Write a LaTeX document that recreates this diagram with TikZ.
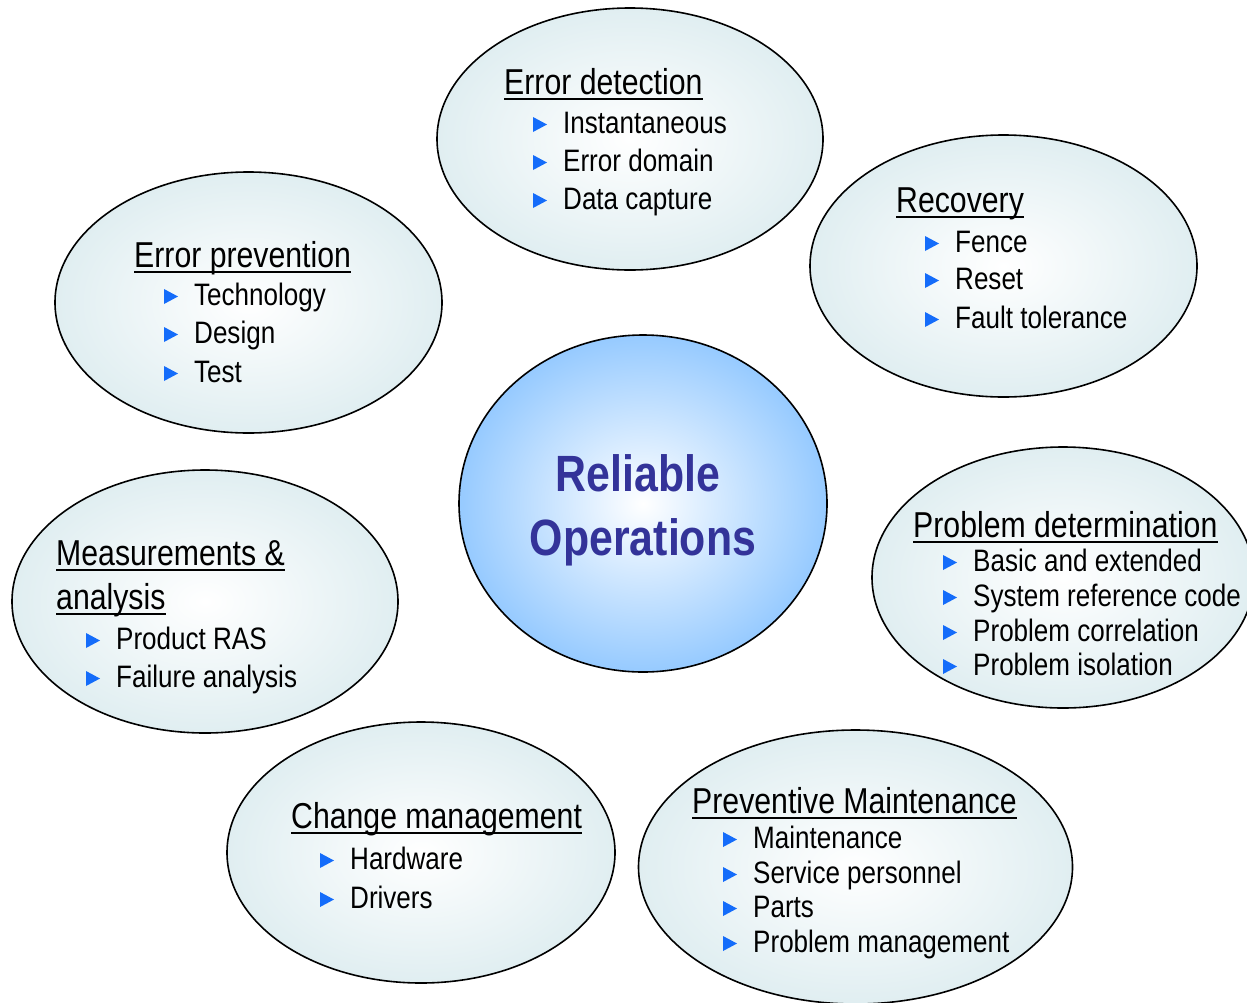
\documentclass[tikz,border=0pt]{standalone}
\usepackage{fontspec}
\setmainfont{Liberation Sans}[FakeStretch=0.84]
\usepackage{tikz}
\usetikzlibrary{shapes.geometric}

\definecolor{bubbleedge}{RGB}{224,238,241}
\definecolor{coreedge}{RGB}{150,202,255}
\definecolor{coretext}{RGB}{51,51,153}
\definecolor{bulletblue}{RGB}{20,108,250}

\tikzset{
  bubble/.style={ellipse, draw=black, line width=1.6pt, shading=radial,
    inner color=white, outer color=bubbleedge, inner sep=0pt},
  heading/.style={anchor=base west, inner sep=0pt, font=\fontsize{36}{40}\selectfont},
  entry/.style={anchor=base west, inner sep=0pt, font=\fontsize{31}{35}\selectfont},
  uline/.style={line width=2pt},
  bullet/.style={fill=bulletblue}
}
% underline under a heading node, blue triangle in front of an entry node
\newcommand{\uline}[1]{\draw[uline] ([yshift=-5pt]#1.base west) -- ([yshift=-5pt]#1.base east);}
\newcommand{\bul}[1]{\fill[bullet] ([xshift=-30pt,yshift=1pt]#1.base west) -- ++(0,-15) -- ++(14,7.5) -- cycle;}

\begin{document}
\begin{tikzpicture}[x=1pt,y=-1pt]
    \useasboundingbox (0,0) rectangle (1247,1002);
    \clip (0,0) rectangle (1247,1002);

    % bubbles
    \node[bubble, minimum width=386, minimum height=262] (detect) at (630,139) {};
    \node[bubble, minimum width=387, minimum height=262] (recov) at (1003.5,266) {};
    \node[bubble, minimum width=387, minimum height=261] (prev) at (248.5,302.5) {};
    \node[bubble, minimum width=386, minimum height=263] (meas) at (205,601.5) {};
    \node[bubble, minimum width=382, minimum height=261] (probdet) at (1063,577.5) {};
    \node[bubble, minimum width=388, minimum height=261] (change) at (421,852.5) {};
    \node[bubble, minimum width=434, minimum height=274] (maint) at (855.5,867) {};
    \node[ellipse, draw=black, line width=1.6pt, shading=radial, inner color=white,
          outer color=coreedge, minimum width=368, minimum height=337] (core) at (643,503.5) {};

    % centre
    \node[anchor=base, inner sep=0pt, text=coretext, font=\fontsize{51}{56}\selectfont\bfseries]
        (core1) at (638,491) {Reliable};
    \node[anchor=base, inner sep=0pt, text=coretext, font=\fontsize{51}{56}\selectfont\bfseries]
        (core2) at (643,555) {Operations};

    % Error detection
    \node[heading] (detectT) at (504,94) {Error detection}; \uline{detectT}
    \foreach \y/\t in {133/Instantaneous,171/Error domain,209/Data capture}{
        \node[entry] (detect\y) at (563,\y) {\t}; \bul{detect\y}}

    % Recovery
    \node[heading] (recovT) at (896,212) {Recovery}; \uline{recovT}
    \foreach \y/\t in {252/Fence,289/Reset,328/Fault tolerance}{
        \node[entry] (recov\y) at (955,\y) {\t}; \bul{recov\y}}

    % Error prevention
    \node[heading] (prevT) at (134,267) {Error prevention}; \uline{prevT}
    \foreach \y/\t in {305/Technology,343/Design,382/Test}{
        \node[entry] (prev\y) at (194,\y) {\t}; \bul{prev\y}}

    % Measurements & analysis
    \node[heading] (measT) at (56,565) {Measurements \&}; \uline{measT}
    \node[heading] (measU) at (56,609) {analysis}; \uline{measU}
    \foreach \y/\t in {649/Product RAS,687/Failure analysis}{
        \node[entry] (meas\y) at (116,\y) {\t}; \bul{meas\y}}

    % Problem determination
    \node[heading] (probdetT) at (913,537) {Problem determination}; \uline{probdetT}
    \foreach \y/\t in {571/Basic and extended,606/System reference code,641/Problem correlation,675/Problem isolation}{
        \node[entry] (probdet\y) at (973,\y) {\t}; \bul{probdet\y}}

    % Change management
    \node[heading] (changeT) at (291,828) {Change management}; \uline{changeT}
    \foreach \y/\t in {869/Hardware,908/Drivers}{
        \node[entry] (change\y) at (350,\y) {\t}; \bul{change\y}}

    % Preventive Maintenance
    \node[heading] (maintT) at (692,813) {Preventive Maintenance}; \uline{maintT}
    \foreach \y/\t in {848/Maintenance,883/Service personnel,917/Parts,952/Problem management}{
        \node[entry] (maint\y) at (753,\y) {\t}; \bul{maint\y}}
\end{tikzpicture}
\end{document}
